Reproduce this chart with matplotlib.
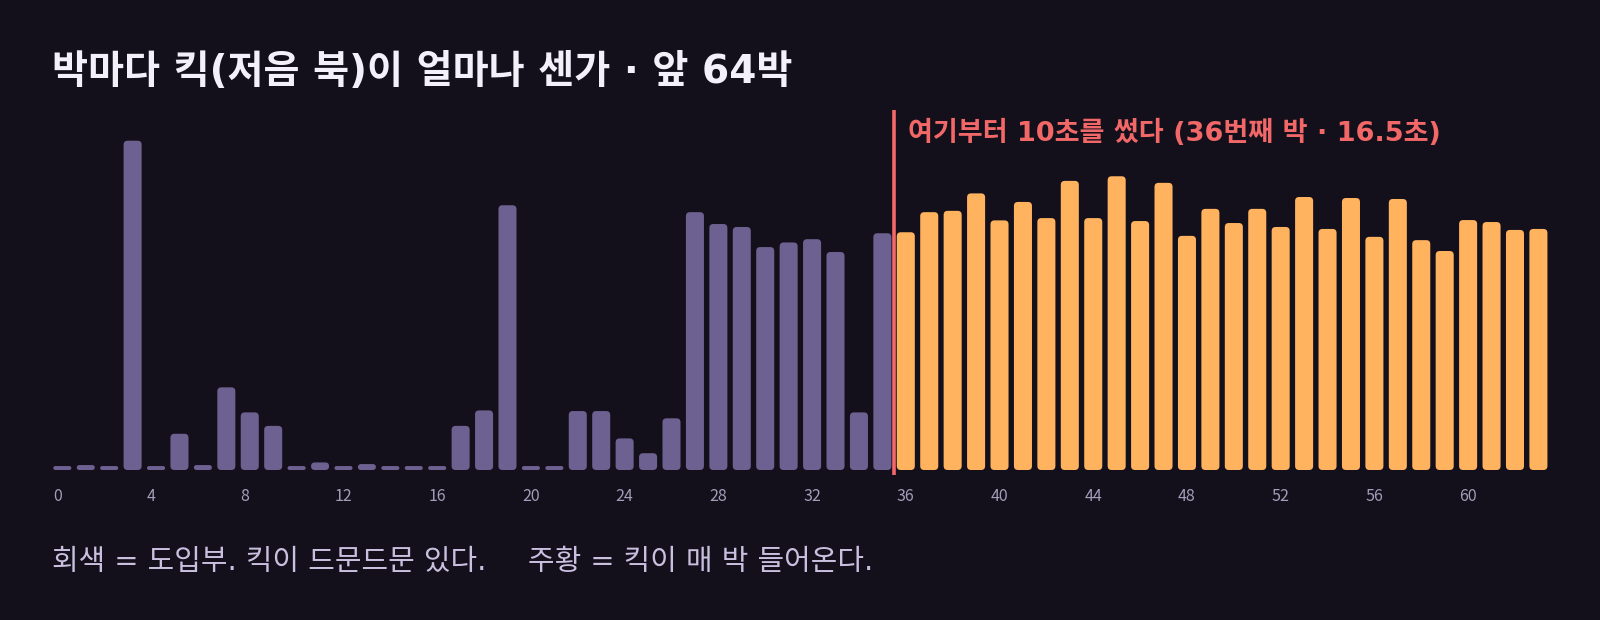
import matplotlib
matplotlib.use("Agg")
import matplotlib.pyplot as plt
from matplotlib.patches import FancyBboxPatch

plt.rcParams['font.family'] = ['Noto Sans CJK KR', 'DejaVu Sans']
MIXED = ['DejaVu Sans', 'Noto Sans CJK KR']

# ---- data ----
beats = list(range(64))
kick = [0.012, 0.015, 0.012, 1.000, 0.012, 0.110, 0.015, 0.251, 0.175, 0.134,
        0.012, 0.023, 0.012, 0.018, 0.012, 0.012, 0.012, 0.134, 0.181, 0.804,
        0.012, 0.012, 0.179, 0.179, 0.096, 0.051, 0.157, 0.783, 0.747, 0.738,
        0.677, 0.691, 0.701, 0.662, 0.175, 0.719, 0.722, 0.783, 0.787, 0.840,
        0.758, 0.814, 0.765, 0.878, 0.765, 0.892, 0.756, 0.872, 0.711, 0.793,
        0.750, 0.793, 0.738, 0.829, 0.732, 0.826, 0.708, 0.823, 0.698, 0.665,
        0.759, 0.753, 0.729, 0.732]
split_beat = 36
tick_beats = list(range(0, 64, 4))
title = "박마다 킥(저음 북)이 얼마나 센가 · 앞 64박"
marker_label = "여기부터 10초를 썼다 (36번째 박 · 16.5초)"
footer = "회색 = 도입부. 킥이 드문드문 있다.   주황 = 킥이 매 박 들어온다."

# ---- style ----
BG = "#13101b"
PURPLE = "#6c6190"
ORANGE = "#ffb35e"
RED = "#f26868"
TICK = "#a39dba"

W, H, DPI = 1600, 620, 100
fig = plt.figure(figsize=(W / DPI, H / DPI), dpi=DPI, facecolor=BG)

px_x = 23.43       # pixels per beat
px_y = 329.3       # pixels per unit
x0_px = 53.3       # pixel of beat 0 left edge
base_px = 470.0    # baseline from top
xlim = (-0.6, 64.4)
ylim = (-0.035, 1.13)
left = (x0_px + xlim[0] * px_x) / W
width = (xlim[1] - xlim[0]) * px_x / W
bottom = (H - (base_px - ylim[0] * px_y)) / H
height = (ylim[1] - ylim[0]) * px_y / H
ax = fig.add_axes([left, bottom, width, height])
ax.set_facecolor(BG)
ax.set_xlim(*xlim)
ax.set_ylim(*ylim)

bw = 0.77
colors = [PURPLE if b < split_beat else ORANGE for b in beats]
bars = ax.bar(beats, kick, width=bw, align='edge', color=colors)
aspect = px_x / px_y
r = 4.0 / px_x
for rect, c in zip(bars, colors):
    rect.set_visible(False)
    x, y, w, h = rect.get_x(), rect.get_y(), rect.get_width(), rect.get_height()
    dr = min(r, w / 2, (h / aspect) / 2)
    p = FancyBboxPatch((x, y), w, h,
                       boxstyle=f"round,pad=0,rounding_size={dr}",
                       mutation_aspect=aspect, facecolor=c, edgecolor='none')
    ax.add_patch(p)

lx = split_beat - (1 - bw) / 2
ax.plot([lx, lx], [-0.016, 1.093], color=RED, lw=2.6, solid_capstyle='butt')
ax.text(split_beat + 0.48, 1.023, marker_label, color=RED, fontsize=19.5,
        fontweight='bold', ha='left', va='center', family=MIXED)

ax.set_xticks(tick_beats)
ax.set_xticklabels([str(t) for t in tick_beats], ha='left')
ax.tick_params(axis='x', length=0, pad=5, labelsize=11.5, labelcolor=TICK)
for lab in ax.get_xticklabels():
    lab.set_fontweight('light')
ax.set_yticks([])
for s in ax.spines.values():
    s.set_visible(False)

fig.text(52 / W, 1 - 72 / H, title, color="#f4f0fa", fontsize=28.2,
         fontweight='bold', ha='left', va='center', family=MIXED)
footer_parts = footer.split("   ")
for part, xpx in zip(footer_parts, [52, 528]):
    fig.text(xpx / W, 1 - 562 / H, part, color="#c9c0e0", fontsize=20.8,
             fontweight=350, ha='left', va='center', family=MIXED)

fig.savefig("out.png", dpi=DPI, facecolor=BG)
